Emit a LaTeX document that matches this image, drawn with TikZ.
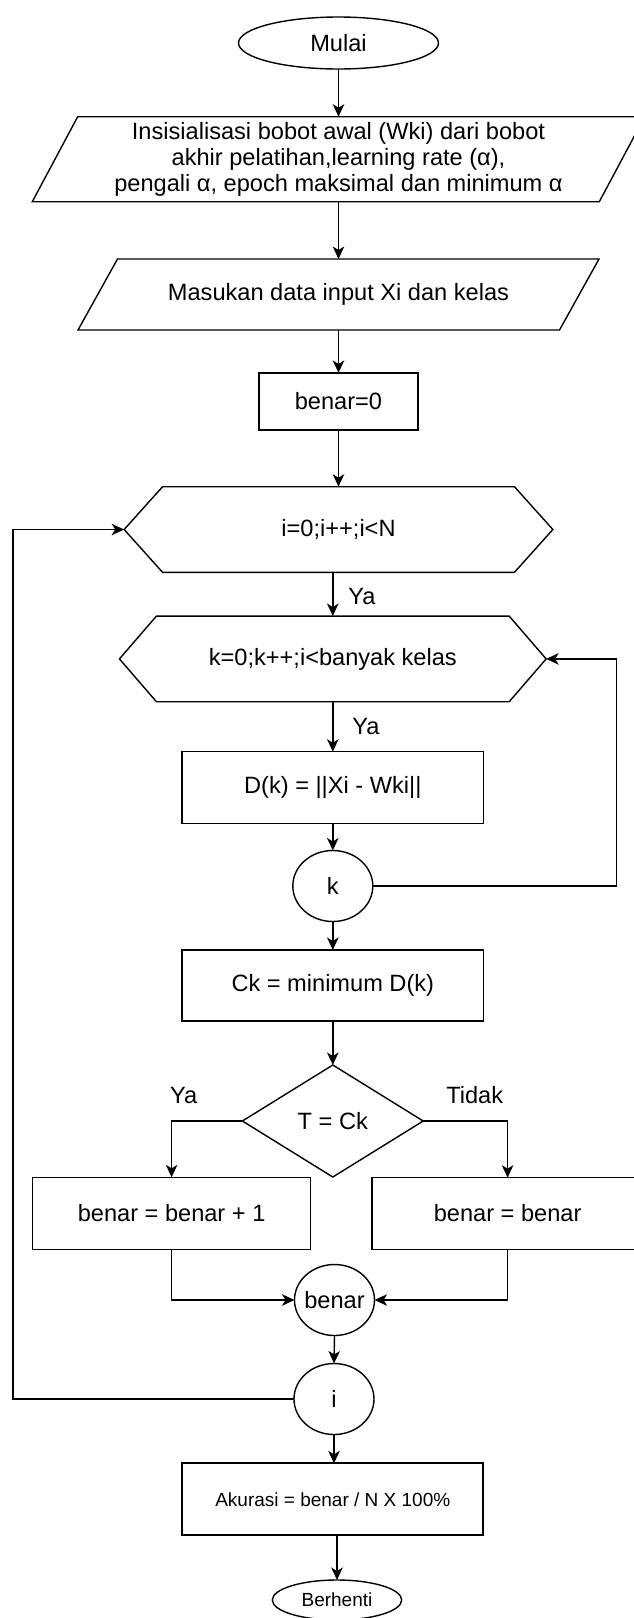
\documentclass[tikz,border=0pt]{standalone}
\usepackage{fontspec}
\setmainfont{Liberation Sans}
\usetikzlibrary{shapes.geometric,arrows.meta,calc}

\begin{document}
\begin{tikzpicture}[x=1pt,y=-1pt,
  every node/.style={inner sep=0pt, outer sep=0pt, font=\fontsize{23.6}{26}\selectfont},
  line/.style={line width=1.4pt, draw=black},
  arr/.style={line, -{Stealth[length=12.5pt,width=11.5pt,inset=3.5pt]}},
  terminal/.style={ellipse, draw, line width=1.4pt},
  procbox/.style={rectangle, draw, line width=1.4pt},
  ghost/.style={rectangle, draw=none},
  connector/.style={ellipse, draw, line width=1.4pt, minimum width=80pt, minimum height=71pt},
  decision/.style={diamond, draw, line width=1.4pt},
  smalltext/.style={font=\fontsize{19}{22}\selectfont},
]
\useasboundingbox (0,0) rectangle (634,1618);
\clip (0,0) rectangle (634,1618);

% start terminal
\node[terminal, minimum width=200pt, minimum height=52pt] (start) at (338.5,43) {Mulai};

% input parallelograms (body as a plain box, outline drawn below)
\node[ghost, minimum width=612.4pt, minimum height=85pt, align=center] (init) at (338.5,159.2)
  {Insisialisasi bobot awal (Wki) dari bobot\\akhir pelatihan,learning rate (α),\\pengali α, epoch maksimal dan minimum α};
\draw[line] (init.south west) -- ($(init.north west)+(45.4,0)$) -- (init.north east)
  -- ($(init.south east)+(-45.4,0)$) -- cycle;

\node[ghost, minimum width=521pt, minimum height=71pt] (input) at (338.5,294.5) {Masukan data input Xi dan kelas};
\draw[line] (input.south west) -- ($(input.north west)+(39.5,0)$) -- (input.north east)
  -- ($(input.south east)+(-39.5,0)$) -- cycle;

\node[procbox, minimum width=159pt, minimum height=57pt] (zero) at (338.5,401.4) {benar=0};

% loop headers (hexagons)
\node[ghost, minimum width=428.7pt, minimum height=85.6pt] (loopi) at (338.5,529.5) {i=0;i++;i<N};
\draw[line] (loopi.west) -- ($(loopi.north west)+(38.4,0)$) -- ($(loopi.north east)+(-38.4,0)$)
  -- (loopi.east) -- ($(loopi.south east)+(-38.4,0)$) -- ($(loopi.south west)+(38.4,0)$) -- cycle;

\node[ghost, minimum width=426.7pt, minimum height=85.7pt] (loopk) at (332.8,658.9) {k=0;k++;i<banyak kelas};
\draw[line] (loopk.west) -- ($(loopk.north west)+(37,0)$) -- ($(loopk.north east)+(-37,0)$)
  -- (loopk.east) -- ($(loopk.south east)+(-37,0)$) -- ($(loopk.south west)+(37,0)$) -- cycle;

\node[procbox, minimum width=301.6pt, minimum height=71.6pt] (dist) at (332.8,787.5) {D(k) = ||Xi - Wki||};
\node[connector] (ck) at (332.8,886) {k};
\node[procbox, minimum width=301.6pt, minimum height=71pt] (cmin) at (332.8,985.5) {Ck = minimum D(k)};
\node[decision, minimum width=180.8pt, minimum height=112pt] (test) at (332.8,1121) {T = Ck};

\node[procbox, minimum width=278.2pt, minimum height=72pt] (yes) at (171.6,1213.3) {benar = benar + 1};
\node[procbox, minimum width=271pt, minimum height=71.6pt] (no) at (507.6,1213.5) {benar = benar};

\node[connector] (cb) at (334.5,1300) {\makebox[0pt]{benar}};
\node[connector] (ci) at (334,1399) {i};

\node[procbox, line width=2.2pt, minimum width=301pt, minimum height=71.7pt, smalltext] (acc) at (332.8,1499.2)
  {Akurasi = benar / N X 100\%};
\node[terminal, minimum width=129.4pt, minimum height=40pt, smalltext] (stop) at (337,1600) {Berhenti};

% branch labels
\node (ya1) at (362,596) {Ya};
\node (ya2) at (366,726) {Ya};
\node (ya3) at (183.6,1095) {Ya};
\node (tidak) at (474.7,1095) {Tidak};

% loop return points
\coordinate (loopR) at (616.6,886);
\coordinate (loopL) at (13,1399);

% connectors
\draw[arr] (start.south) -- (init.north);
\draw[arr] (init.south) -- (input.north);
\draw[arr] (input.south) -- (zero.north);
\draw[arr] (zero.south) -- (loopi.north);
\draw[arr] (loopi.south -| loopk.north) -- (loopk.north);
\draw[arr] (loopk.south) -- (dist.north);
\draw[arr] (dist.south) -- (ck.north);
\draw[arr] (ck.east) -- (loopR) |- (loopk.east);
\draw[arr] (ck.south) -- (cmin.north);
\draw[arr] (cmin.south) -- (test.north);
\draw[arr] (test.west) -| (yes.north);
\draw[arr] (test.east) -| (no.north);
\draw[arr] (yes.south) |- (cb.west);
\draw[arr] (no.south) |- (cb.east);
\draw[arr] (cb.south) -- (ci.north);
\draw[arr] (ci.west) -- (loopL) |- (loopi.west);
\draw[arr] (ci.south) -- (ci.south |- acc.north);
\draw[arr] (acc.south -| stop.north) -- (stop.north);
\end{tikzpicture}
\end{document}
